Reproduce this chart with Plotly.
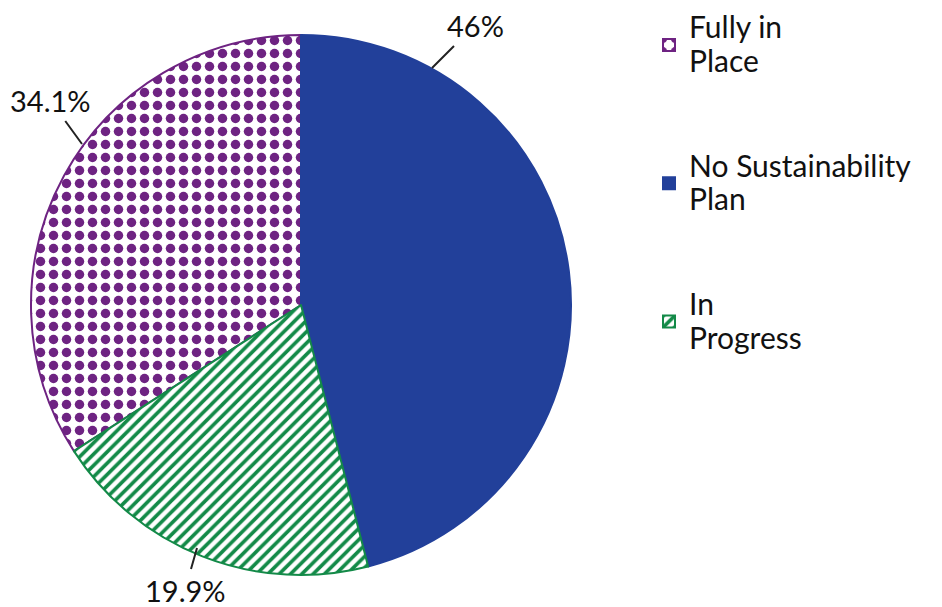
import plotly.graph_objects as go

labels = ["Fully in Place", "No Sustainability Plan", "In Progress"]
legend_text = ["Fully in<br>Place", "No Sustainability<br>Plan", "In<br>Progress"]
values = [34.1, 46.0, 19.9]
colors = ["#6e2382", "#22409a", "#138a48"]
patterns = [".", "", "/"]

# page body adds an 8px margin; figure is sized so the photo shows it whole
OFF = 8
W, H = 942 - OFF, 607 - OFF
FONT = "Lato, sans-serif"

def px(x):
    return (x - OFF) / W

def py(y):
    return (H - (y - OFF)) / H

rotation = -values[0] / sum(values) * 360

SP = '<span style="font-size:30px">'
leg_labels = ["&nbsp;<br>" + SP + t.replace("<br>", "</span><br>" + SP) + "</span><br>&nbsp;"
              for t in legend_text]

fig = go.Figure(go.Pie(
    labels=leg_labels,
    values=values,
    sort=False,
    direction="clockwise",
    rotation=rotation,
    textinfo="none",
    hoverinfo="percent",
    domain=dict(x=[px(30), px(572)], y=[py(575), py(35)]),
    marker=dict(
        colors=colors,
        line=dict(color=colors, width=2),
        pattern=dict(shape=patterns, fillmode="replace", bgcolor="white",
                     size=[13, 10, 8], solidity=[0.42, 0.3, 0.45]),
    ),
))

# label anchor points (tip on pie edge) and text offsets
tips = [(82, 144), (432, 68), (197, 548)]
offsets = [(-32, -44), (43, -43), (-12, 42)]
anns = []
for v, (tx, ty), (ax, ay) in zip(values, tips, offsets):
    anns.append(dict(
        x=px(tx), y=py(ty), xref="paper", yref="paper",
        text=f"{v:g}%", showarrow=True, arrowhead=0, arrowwidth=2,
        arrowcolor="#222", ax=ax, ay=ay, borderpad=3,
        font=dict(size=29, color="#111", family=FONT),
    ))

fig.update_layout(
    width=W, height=H,
    margin=dict(l=0, r=0, t=0, b=0, autoexpand=False),
    paper_bgcolor="white", plot_bgcolor="white",
    font=dict(family=FONT, color="#111"),
    annotations=anns,
    showlegend=True,
    legend=dict(x=px(649), y=py(-29), xanchor="left", yanchor="top",
                font=dict(size=26, color="#111", family=FONT),
                valign="middle", maxheight=1),
)

fig.write_html("out.html")
